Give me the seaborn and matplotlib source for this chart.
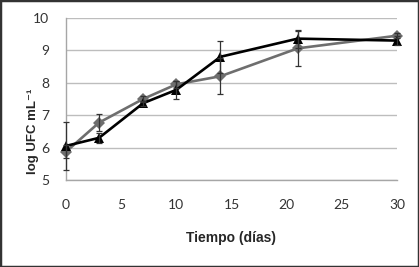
import pandas as pd
import matplotlib
matplotlib.use('Agg')
import matplotlib.pyplot as plt
import seaborn as sns

# Data
dias = [0, 3, 7, 10, 14, 21, 30]
gris = [5.87, 6.77, 7.5, 7.95, 8.2, 9.06, 9.45]
gris_err = [0.2, 0.25, 0.08, 0.1, 0.55, 0.55, 0.08]
negro = [6.05, 6.3, 7.37, 7.78, 8.8, 9.36, 9.3]
negro_err = [0.75, 0.15, 0.08, 0.27, 0.5, 0.28, 0.15]

df = pd.DataFrame({
    'Tiempo': dias * 2,
    'logUFC': gris + negro,
    'err': gris_err + negro_err,
    'serie': ['A'] * len(dias) + ['B'] * len(dias),
})

sns.set_style('white')
plt.rcParams['font.family'] = ['Liberation Sans', 'DejaVu Sans']

fig = plt.figure(figsize=(4.19, 2.67), dpi=100)
ax = fig.add_axes([0.1575, 0.326, 0.79, 0.607])

colores = {'A': '#6e6e6e', 'B': '#000000'}
marcadores = {'A': 'D', 'B': '^'}

for s, sub in df.groupby('serie'):
    eb = ax.errorbar(sub['Tiempo'], sub['logUFC'], yerr=sub['err'], fmt='none',
                     ecolor='#333333', elinewidth=0.9, capsize=2.5, capthick=0.9, zorder=4)
    for art in eb.lines[1] + eb.lines[2]:
        art.set_clip_on(False)

sns.lineplot(data=df, x='Tiempo', y='logUFC', hue='serie', style='serie',
             palette=colores, markers=marcadores, dashes=False, linewidth=1.9,
             markersize=6.5, markeredgewidth=0, legend=False, ax=ax, zorder=3)
for ln in ax.lines:
    ln.set_clip_on(False)

ax.set_xlim(0, 30)
ax.set_ylim(5, 10)
ax.set_xticks(range(0, 31, 5))
ax.set_yticks(range(5, 11))
ax.grid(axis='y', color='#bdbdbd', linewidth=1)
ax.grid(axis='x', visible=False)
for side in ['top', 'right']:
    ax.spines[side].set_visible(False)
for side in ['left', 'bottom']:
    ax.spines[side].set_color('#a6a6a6')
    ax.spines[side].set_linewidth(1)
    ax.spines[side].set_zorder(1)
ax.tick_params(axis='both', which='major', direction='out', length=4, width=1,
               color='#a6a6a6', labelsize=10, labelcolor='#333333')
for lab in ax.get_xticklabels() + ax.get_yticklabels():
    lab.set_family(['Lato', 'DejaVu Sans'])
ax.tick_params(axis='x', pad=10)
ax.tick_params(axis='y', pad=8)

ax.set_xlabel('Tiempo (días)', fontsize=10, fontweight='bold', labelpad=14)
ax.set_ylabel('log UFC mL⁻¹', fontsize=9.5, fontweight='bold')
ax.yaxis.set_label_coords(-0.082, 0.30)

# frame around the figure
fig.patches.append(plt.Rectangle((0, 0), 1, 1, transform=fig.transFigure,
                                 fill=False, edgecolor='#333333', linewidth=2.5))

fig.savefig('out.png', dpi=100)
plt.close(fig)
